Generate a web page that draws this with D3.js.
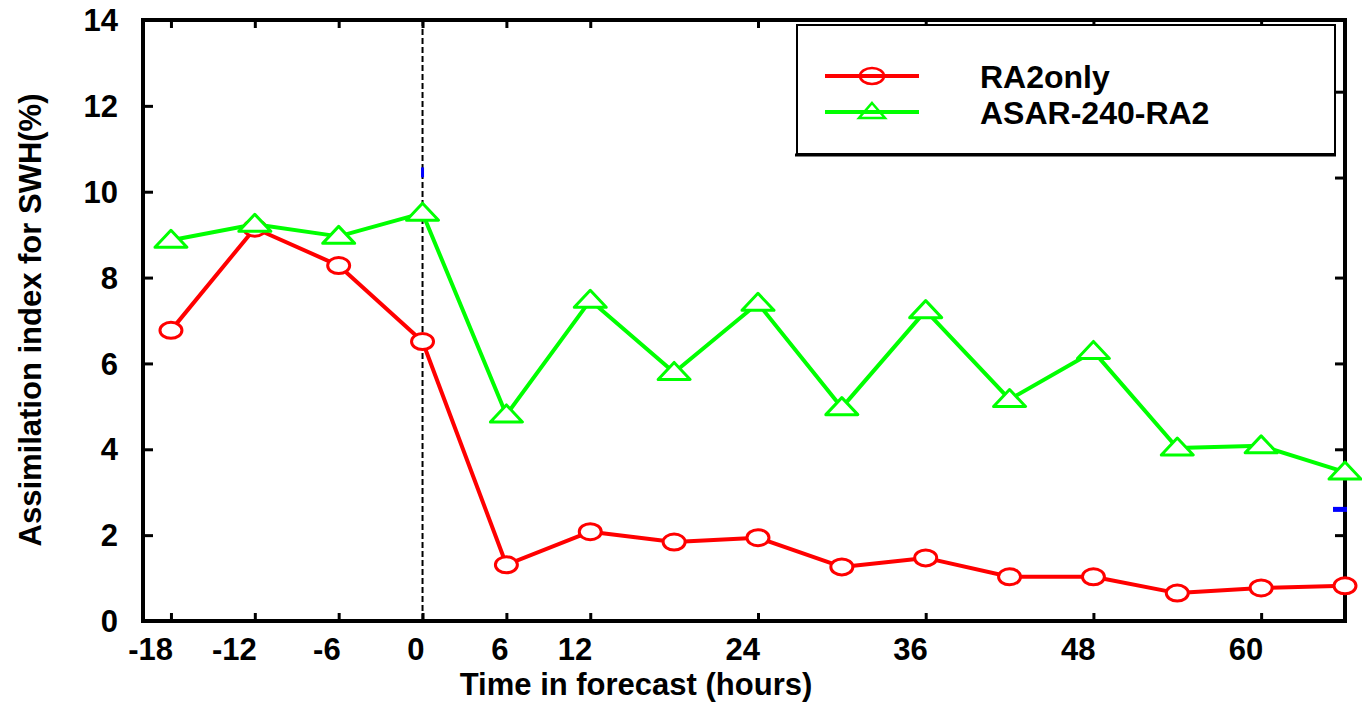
<!DOCTYPE html>
<html>
<head>
<meta charset="utf-8">
<script src="https://cdn.jsdelivr.net/npm/d3@7"></script>
<style>
  body { margin: 0; background: #fff; }
  text { font-family: "Liberation Sans", Arial, sans-serif; font-weight: bold; }
</style>
</head>
<body>
<svg id="chart" width="1362" height="702"></svg>
<script>
// data
const hours = [-18, -12, -6, 0, 6, 12, 18, 24, 30, 36, 42, 48, 54, 60, 66];
const ra2only = [6.77, 9.15, 8.28, 6.51, 1.31, 2.08, 1.84, 1.94, 1.26, 1.47, 1.03, 1.03, 0.65, 0.77, 0.82];
const asarRa2 = [8.87, 9.24, 8.96, 9.5, 4.8, 7.47, 5.79, 7.4, 4.97, 7.23, 5.16, 6.28, 4.03, 4.08, 3.47];
const xTicks = [-18, -12, -6, 0, 6, 12, 24, 36, 48, 60];
const yTicks = [0, 2, 4, 6, 8, 10, 12, 14];
const rightTicks = [2, 4, 6, 8, 10.33, 12.33];
const seriesNames = ["RA2only", "ASAR-240-RA2"];
// stray blue marks visible in the picture
const blueV = [{ h: 0, v: 10.45 }];
const blueH = [{ h: 66, v: 2.6 }];

const svg = d3.select("#chart");
const plotL = 143, plotR = 1345, plotT = 20, plotB = 621;
const fs = 31;

const x = d3.scaleLinear().domain([-20, 66]).range([plotL, plotR]);
const y = d3.scaleLinear().domain([0, 14]).range([plotB, plotT]);

// frame
svg.append("rect")
    .attr("x", plotL).attr("y", plotT)
    .attr("width", plotR - plotL).attr("height", plotB - plotT)
    .attr("fill", "none").attr("stroke", "#000").attr("stroke-width", 4);

// axes with inward ticks
const tickW = 3;
svg.append("g").attr("transform", `translate(0,${plotB})`)
    .call(d3.axisTop(x).tickValues(xTicks).tickSize(8).tickFormat(""))
    .call(g => g.select(".domain").remove())
    .call(g => g.selectAll("line").attr("stroke-width", tickW));
svg.append("g").attr("transform", `translate(0,${plotT})`)
    .call(d3.axisBottom(x).tickValues(xTicks).tickSize(8).tickFormat(""))
    .call(g => g.select(".domain").remove())
    .call(g => g.selectAll("line").attr("stroke-width", tickW));
svg.append("g").attr("transform", `translate(${plotL},0)`)
    .call(d3.axisRight(y).tickValues(yTicks.slice(1, -1)).tickSize(10).tickFormat(""))
    .call(g => g.select(".domain").remove())
    .call(g => g.selectAll("line").attr("stroke-width", tickW));
svg.append("g").attr("transform", `translate(${plotR},0)`)
    .call(d3.axisLeft(y).tickValues(rightTicks).tickSize(10).tickFormat(""))
    .call(g => g.select(".domain").remove())
    .call(g => g.selectAll("line").attr("stroke-width", tickW));

// tick labels
svg.selectAll(".xlab").data(xTicks).enter().append("text")
    .attr("x", d => x(d) + 2).attr("y", 660)
    .attr("text-anchor", "end")
    .attr("font-size", fs)
    .text(d => d);
svg.selectAll(".ylab").data(yTicks).enter().append("text")
    .attr("x", plotL - 25).attr("y", d => y(d))
    .attr("dy", "0.36em")
    .attr("text-anchor", "end")
    .attr("font-size", fs)
    .text(d => d);

// axis titles
svg.append("text")
    .attr("x", 636).attr("y", 695)
    .attr("text-anchor", "middle")
    .attr("font-size", fs)
    .text("Time in forecast (hours)");
svg.append("text")
    .attr("transform", "translate(41,320) rotate(-90)")
    .attr("text-anchor", "middle")
    .attr("font-size", fs)
    .text("Assimilation index for SWH(%)");

// dashed line at analysis time
svg.append("line")
    .attr("x1", x(0)).attr("x2", x(0))
    .attr("y1", plotT).attr("y2", plotB)
    .attr("stroke", "#000").attr("stroke-width", 2)
    .attr("stroke-dasharray", "6,3");

// blue marks
svg.selectAll(".bv").data(blueV).enter().append("rect")
    .attr("x", d => x(d.h) - 1.5).attr("y", d => y(d.v) - 5)
    .attr("width", 3).attr("height", 10).attr("fill", "#0000ff");
svg.selectAll(".bh").data(blueH).enter().append("rect")
    .attr("x", d => x(d.h) - 12).attr("y", d => y(d.v) - 2.5)
    .attr("width", 14).attr("height", 5).attr("fill", "#0000ff");

const line = d3.line().x(d => x(d[0])).y(d => y(d[1]));
const tri = "M0,-10 L16,7 L-16,7 Z";

// RA2only
const redPts = hours.map((h, i) => [h, ra2only[i]]);
svg.append("path").datum(redPts).attr("d", line)
    .attr("fill", "none").attr("stroke", "#ff0000").attr("stroke-width", 4)
    .attr("stroke-linejoin", "round");
svg.selectAll(".rc").data(redPts).enter().append("ellipse")
    .attr("cx", d => x(d[0])).attr("cy", d => y(d[1]))
    .attr("rx", 11).attr("ry", 8)
    .attr("fill", "#fff").attr("stroke", "#ff0000").attr("stroke-width", 3);

// ASAR-240-RA2
const greenPts = hours.map((h, i) => [h, asarRa2[i]]);
svg.append("path").datum(greenPts).attr("d", line)
    .attr("fill", "none").attr("stroke", "#00ff00").attr("stroke-width", 4)
    .attr("stroke-linejoin", "round");
svg.selectAll(".gt").data(greenPts).enter().append("path")
    .attr("d", tri)
    .attr("transform", d => `translate(${x(d[0])},${y(d[1])})`)
    .attr("fill", "#fff").attr("stroke", "#00ff00").attr("stroke-width", 3)
    .attr("stroke-linejoin", "round");

// legend
const lg = svg.append("g");
lg.append("rect")
    .attr("x", 797).attr("y", 25).attr("width", 538).attr("height", 129)
    .attr("fill", "#fff").attr("stroke", "#000").attr("stroke-width", 2);
lg.append("line")
    .attr("x1", 795).attr("x2", 1336).attr("y1", 155).attr("y2", 155)
    .attr("stroke", "#000").attr("stroke-width", 3);
const colors = ["#ff0000", "#00ff00"];
seriesNames.forEach((name, i) => {
    const ly = 76 + i * 36;
    lg.append("line")
        .attr("x1", 825).attr("x2", 919).attr("y1", ly).attr("y2", ly)
        .attr("stroke", colors[i]).attr("stroke-width", 4);
    if (i === 0) {
        lg.append("ellipse").attr("cx", 872).attr("cy", ly)
            .attr("rx", 12).attr("ry", 8)
            .attr("fill", "none").attr("stroke", colors[i]).attr("stroke-width", 2.5);
    } else {
        lg.append("path").attr("d", "M0,-13 L13,2 L-13,2 Z")
            .attr("transform", `translate(872,${ly + 4})`)
            .attr("fill", "none").attr("stroke", colors[i]).attr("stroke-width", 2.5);
    }
    lg.append("text")
        .attr("x", 980).attr("y", ly + 12)
        .attr("font-size", 32)
        .text(name);
});
</script>
</body>
</html>
